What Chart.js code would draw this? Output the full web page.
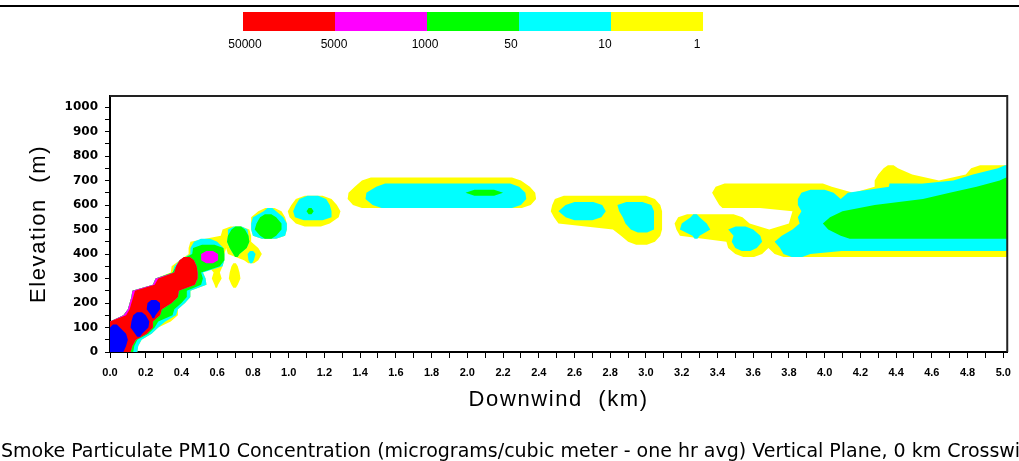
<!DOCTYPE html>
<html>
<head>
<meta charset="utf-8">
<title>Smoke PM10 vertical plane</title>
<script src="https://cdn.jsdelivr.net/npm/chart.js@4.4.1/dist/chart.umd.min.js"></script>
<style>
  html, body { margin: 0; padding: 0; background: #fff; }
</style>
</head>
<body>
<canvas id="plume" width="1019" height="461"></canvas>
<script>
// concentration bands, lowest first (micrograms/m3)
const bandNames = ["1 - 10", "10 - 50", "50 - 1000", "1000 - 5000", "5000 - 50000", "> 50000"];
const bandColors = ["#ffff00", "#00ffff", "#00ff00", "#ff00ff", "#ff0000", "#0000ff"];
const keyLabels = ["50000", "5000", "1000", "50", "10", "1"];

// elevation of each sampled row (m)
const elevationM = [0, 25, 50, 75, 100, 125, 150, 175, 200, 225, 250, 275, 300, 325, 350, 375,
  400, 425, 450, 475, 500, 525, 550, 575, 600, 625, 650, 675, 700, 725, 750, 775];

// band reached along each row: [from km, to km, band 1..6]
const plumeRows = [
  [[0, 0.153, 2], [0, 0.13, 3], [0, 0.115, 5], [0, 0.075, 6]],
  [[0, 0.158, 2], [0, 0.136, 3], [0, 0.125, 5], [0, 0.09, 6]],
  [[0, 0.177, 2], [0, 0.153, 3], [0, 0.145, 5], [0, 0.1, 6]],
  [[0, 0.233, 2], [0, 0.215, 3], [0, 0.205, 5], [0, 0.09, 6], [0.14, 0.18, 6]],
  [[0, 0.27, 2], [0, 0.25, 3], [0, 0.24, 5], [0, 0.055, 6], [0.115, 0.215, 6]],
  [[0, 0.34, 1], [0, 0.31, 2], [0, 0.27, 3], [0, 0.24, 5], [0.12, 0.22, 6]],
  [[0.075, 0.38, 1], [0.075, 0.37, 2], [0.075, 0.35, 3], [0.075, 0.09, 4], [0.09, 0.28, 5], [0.13, 0.2, 6], [0.23, 0.255, 6]],
  [[0.1, 0.38, 2], [0.1, 0.36, 3], [0.1, 0.11, 4], [0.11, 0.29, 5], [0.205, 0.28, 6]],
  [[0.11, 0.42, 2], [0.11, 0.4, 3], [0.11, 0.12, 4], [0.12, 0.345, 5], [0.21, 0.28, 6]],
  [[0.12, 0.45, 2], [0.12, 0.43, 3], [0.12, 0.13, 4], [0.13, 0.38, 5]],
  [[0.125, 0.45, 2], [0.125, 0.43, 3], [0.125, 0.14, 4], [0.14, 0.385, 5]],
  [[0.24, 0.54, 2], [0.24, 0.51, 3], [0.24, 0.25, 4], [0.25, 0.475, 5], [0.585, 0.605, 1], [0.68, 0.715, 1]],
  [[0.255, 0.535, 2], [0.255, 0.52, 3], [0.255, 0.27, 4], [0.27, 0.49, 5], [0.57, 0.625, 1], [0.665, 0.73, 1]],
  [[0.34, 0.52, 1], [0.35, 0.52, 2], [0.35, 0.51, 3], [0.36, 0.49, 5], [0.58, 0.615, 1], [0.67, 0.725, 1]],
  [[0.345, 0.63, 1], [0.36, 0.63, 2], [0.37, 0.615, 3], [0.37, 0.485, 5], [0.68, 0.715, 1]],
  [[0.45, 0.64, 2], [0.465, 0.64, 3], [0.51, 0.605, 4], [0.39, 0.47, 5], [0.75, 0.83, 1], [0.775, 0.805, 2]],
  [[0.44, 0.64, 1], [0.45, 0.64, 2], [0.46, 0.64, 3], [0.51, 0.605, 4], [0.66, 0.85, 1], [0.69, 0.725, 3], [0.77, 0.815, 2],
   [3.5, 3.65, 1], [3.72, 5.1, 1], [3.77, 3.92, 2]],
  [[0.44, 0.83, 1], [0.45, 0.635, 2], [0.465, 0.635, 3], [0.67, 0.765, 3],
   [3.46, 5.1, 1], [3.5, 3.62, 2], [3.75, 5.1, 2]],
  [[0.45, 0.79, 1], [0.47, 0.6, 2], [0.655, 0.78, 3],
   [2.9, 3.05, 1], [3.45, 5.1, 1], [3.48, 3.65, 2], [3.72, 5.1, 2]],
  [[0.62, 0.79, 1], [0.66, 0.775, 3], [0.8, 0.98, 2], [0.84, 0.93, 3],
   [2.86, 3.08, 1], [3.19, 5.1, 1], [3.26, 3.3, 2], [3.49, 3.64, 2], [3.76, 5.1, 2], [4.09, 5.1, 3]],
  [[0.63, 0.78, 1], [0.66, 0.77, 2], [0.68, 0.755, 3], [0.79, 0.99, 2], [0.81, 0.96, 3],
   [2.815, 3.09, 1], [2.915, 3.045, 2], [3.17, 5.1, 1], [3.19, 3.36, 2], [3.46, 3.6, 2], [3.82, 5.1, 2], [4.02, 5.1, 3]],
  [[0.79, 0.99, 2], [0.82, 0.96, 3], [1.04, 1.23, 1],
   [2.51, 3.09, 1], [2.885, 3.045, 2], [3.16, 3.58, 1], [3.2, 3.34, 2], [3.8, 5.1, 1], [3.86, 5.1, 2], [3.99, 5.1, 3]],
  [[0.79, 0.98, 1], [0.8, 0.97, 2], [0.84, 0.93, 3], [1.005, 1.28, 1], [1.035, 1.24, 2],
   [2.485, 3.09, 1], [2.55, 2.75, 2], [2.87, 3.045, 2], [3.18, 3.54, 1], [3.25, 3.3, 2], [3.81, 5.1, 1], [3.85, 5.1, 2], [4.03, 5.1, 3]],
  [[0.83, 0.96, 1], [0.86, 0.93, 2], [0.995, 1.29, 1], [1.025, 1.24, 2], [1.1, 1.14, 3],
   [2.467, 3.09, 1], [2.51, 2.775, 2], [2.85, 3.045, 2], [3.82, 5.1, 1], [3.87, 5.1, 2], [4.1, 5.1, 3]],
  [[1.015, 1.27, 1], [1.04, 1.23, 2], [1.36, 2.355, 1], [1.47, 2.3, 2],
   [2.475, 3.08, 1], [2.55, 2.755, 2], [2.84, 3.03, 2], [3.41, 5.1, 1], [3.85, 5.1, 2], [4.28, 5.1, 3]],
  [[1.04, 1.24, 1], [1.06, 1.21, 2], [1.33, 2.385, 1], [1.43, 2.33, 2],
   [2.49, 3.05, 1], [3.39, 5.1, 1], [3.85, 5.1, 2], [4.55, 5.1, 3]],
  [[1.335, 2.38, 1], [1.435, 2.325, 2], [1.99, 2.2, 3], [3.37, 5.1, 1], [3.87, 4.05, 2], [4.13, 5.1, 2], [4.7, 5.1, 3]],
  [[1.37, 2.35, 1], [1.49, 2.29, 2], [3.39, 4.04, 1], [4.28, 5.1, 1], [4.36, 5.1, 2], [4.85, 5.1, 3]],
  [[1.41, 2.3, 1], [4.28, 5.1, 1], [4.72, 5.1, 2], [4.98, 5.1, 3]],
  [[4.3, 4.49, 1], [4.79, 5.1, 1], [4.83, 5.1, 2]],
  [[4.33, 4.41, 1], [4.82, 5.1, 1], [4.97, 5.1, 2]],
  []
];

// merged stretches of one row where the band is at least `band`
function stretches(spans, band) {
  const list = spans.filter(s => s[2] >= band).map(s => [s[0], s[1]]).sort((p, q) => p[0] - q[0]);
  const out = [];
  list.forEach(([a, b]) => {
    const last = out[out.length - 1];
    if (last && a <= last[1] + 1e-9) last[1] = Math.max(last[1], b);
    else out.push([a, b]);
  });
  return out;
}

const overlaps = (p, q) => p[0] < q[1] && q[0] < p[1];

// part of `iv` handed to partners[idx] when it meets several stretches in the next row
function share(iv, partners, idx) {
  const lo = idx === 0 ? iv[0] : Math.max(iv[0], (partners[idx - 1][1] + partners[idx][0]) / 2);
  const hi = idx === partners.length - 1 ? iv[1] : Math.min(iv[1], (partners[idx][1] + partners[idx + 1][0]) / 2);
  return [lo, hi];
}

const MAX_SLANT_KM = 0.35;   // wider steps between rows are closed off with a cap instead
const taper = w => Math.min(w * 0.3, 0.05);

// filled bands, joined row to row with straight edges, capped half a row beyond the last row
const contourFill = {
  id: "contourFill",
  beforeDatasetsDraw(chart) {
    const { ctx, chartArea: area, scales: { x, y } } = chart;
    const halfRow = (elevationM[1] - elevationM[0]) / 2;

    const addPoly = pts => {
      const p = pts.map(([km, m]) => [x.getPixelForValue(km), y.getPixelForValue(m)]);
      let s = 0;
      for (let i = 0; i < p.length; i++) {
        const q = p[(i + 1) % p.length];
        s += p[i][0] * q[1] - q[0] * p[i][1];
      }
      if (s < 0) p.reverse();
      ctx.moveTo(p[0][0], p[0][1]);
      for (let i = 1; i < p.length; i++) ctx.lineTo(p[i][0], p[i][1]);
      ctx.closePath();
    };
    const cap = ([a, b], m, dir) => {
      const q = taper(b - a);
      addPoly([[a, m], [b, m], [b - q, m + dir * halfRow], [a + q, m + dir * halfRow]]);
    };
    // trapezoid between a stretch at m0 and one at m1 (m1 above m0)
    const join = ([l0, l1], [h0, h1], m0, m1) => {
      const mid = (m0 + m1) / 2;
      if (l1 - h1 > MAX_SLANT_KM) {
        const c = h1 + MAX_SLANT_KM;
        addPoly([[c, m0], [l1, m0], [l1 - taper(l1 - c), mid], [(c + h1) / 2, mid]]);
        l1 = c;
      }
      if (h0 - l0 > MAX_SLANT_KM) {
        const c = h0 - MAX_SLANT_KM;
        addPoly([[l0, m0], [c, m0], [(c + h0) / 2, mid], [l0 + taper(c - l0), mid]]);
        l0 = c;
      }
      if (h1 - l1 > MAX_SLANT_KM) {
        const c = l1 + MAX_SLANT_KM;
        addPoly([[c, m1], [h1, m1], [h1 - taper(h1 - c), mid], [(c + l1) / 2, mid]]);
        h1 = c;
      }
      if (l0 - h0 > MAX_SLANT_KM) {
        const c = l0 - MAX_SLANT_KM;
        addPoly([[h0, m1], [c, m1], [(c + l0) / 2, mid], [h0 + taper(c - h0), mid]]);
        h0 = c;
      }
      addPoly([[l0, m0], [l1, m0], [h1, m1], [h0, m1]]);
    };

    ctx.save();
    ctx.beginPath();
    ctx.rect(area.left, area.top, area.right - area.left, area.bottom - area.top);
    ctx.clip();

    bandColors.forEach((color, b) => {
      const band = b + 1;
      const rows = plumeRows.map(spans => stretches(spans, band));
      ctx.beginPath();
      rows.forEach((lower, j) => {
        const m0 = elevationM[j];
        if (j === 0) lower.forEach(iv => cap(iv, m0, -1));
        const upper = rows[j + 1];
        if (!upper) { lower.forEach(iv => cap(iv, m0, 1)); return; }
        const m1 = elevationM[j + 1];
        lower.forEach(iv => {
          const partners = upper.filter(p => overlaps(iv, p));
          if (!partners.length) { cap(iv, m0, 1); return; }
          partners.forEach((p, idx) => {
            const back = lower.filter(l => overlaps(l, p));
            join(share(iv, partners, idx), share(p, back, back.indexOf(iv)), m0, m1);
          });
        });
        upper.forEach(p => {
          if (!lower.some(l => overlaps(l, p))) cap(p, m1, -1);
        });
      });
      ctx.fillStyle = color;
      ctx.fill();
    });
    ctx.restore();
  }
};

// frame, colour key and the texts around the plot
const decorations = {
  id: "decorations",
  afterDraw(chart) {
    const { ctx, chartArea: area } = chart;
    ctx.save();

    ctx.fillStyle = "#000";
    ctx.fillRect(0, 5, chart.width, 2);

    ctx.strokeStyle = "#222";
    ctx.lineWidth = 2;
    ctx.beginPath();
    ctx.moveTo(area.left, area.top);
    ctx.lineTo(area.right, area.top);
    ctx.lineTo(area.right, area.bottom);
    ctx.stroke();

    // colour key: highest band on the left, blue (>50000) is not listed
    const keyColors = bandColors.slice(0, 5).reverse();
    const keyLeft = 243, keyTop = 12, keyW = 92, keyH = 19;
    keyColors.forEach((c, i) => {
      ctx.fillStyle = c;
      ctx.fillRect(keyLeft + i * keyW, keyTop, keyW, keyH);
    });
    const labelNudge = [2, -1, -2, -8, -6, -6];
    ctx.fillStyle = "#000";
    ctx.font = "12px 'Liberation Sans Narrow', 'Liberation Sans', sans-serif";
    ctx.textAlign = "center";
    ctx.textBaseline = "middle";
    keyLabels.forEach((t, i) => ctx.fillText(t, keyLeft + i * keyW + labelNudge[i], 45));

    // axis titles
    ctx.font = "22px 'Liberation Sans', Arial, sans-serif";
    ctx.letterSpacing = "1.6px";
    ctx.fillText("Downwind  (km)", (area.left + area.right) / 2, 400);
    ctx.save();
    ctx.translate(39, (area.top + area.bottom) / 2);
    ctx.rotate(-Math.PI / 2);
    ctx.fillText("Elevation  (m)", 0, 0);
    ctx.restore();

    // caption along the bottom, runs off the right edge as in the original
    ctx.letterSpacing = "0px";
    ctx.textAlign = "left";
    ctx.textBaseline = "alphabetic";
    ctx.font = "19px 'DejaVu Sans', sans-serif";
    ctx.fillText("Smoke Particulate PM10 Concentration (micrograms/cubic meter - one hr avg) Vertical Plane, 0 km Crosswind", 1, 457);

    ctx.restore();
  }
};

new Chart(document.getElementById("plume"), {
  type: "scatter",
  data: {
    datasets: bandNames.map((name, i) => ({
      label: name,
      data: [],
      backgroundColor: bandColors[i]
    }))
  },
  options: {
    responsive: false,
    animation: false,
    layout: { padding: { left: 0, right: 10, top: 96, bottom: 0 } },
    plugins: { legend: { display: false }, tooltip: { enabled: false } },
    scales: {
      x: {
        type: "linear",
        min: 0,
        max: 5.022,
        afterFit(scale) { scale.height = 109; },
        border: { color: "#000", width: 2 },
        grid: { drawOnChartArea: false, tickLength: 6, color: "#000", lineWidth: 1 },
        ticks: {
          stepSize: 0.1,
          includeBounds: false,
          autoSkip: false,
          maxRotation: 0,
          padding: 8,
          color: "#000",
          font: { family: "'Liberation Sans', Arial, sans-serif", size: 11, weight: "bold" },
          callback: v => (Math.round(v * 10) % 2 ? "" : v.toFixed(1))
        }
      },
      y: {
        type: "linear",
        min: 0,
        max: 1045,
        afterFit(scale) { scale.width = 110; },
        border: { color: "#000", width: 2 },
        grid: { drawOnChartArea: false, tickLength: 5, color: "#000", lineWidth: 1 },
        ticks: {
          stepSize: 50,
          includeBounds: false,
          autoSkip: false,
          padding: 7,
          color: "#000",
          font: { family: "'DejaVu Sans', sans-serif", size: 12, weight: "bold" },
          callback: v => (Math.round(v) % 100 ? "" : String(Math.round(v)))
        }
      }
    }
  },
  plugins: [contourFill, decorations]
});
</script>
</body>
</html>
